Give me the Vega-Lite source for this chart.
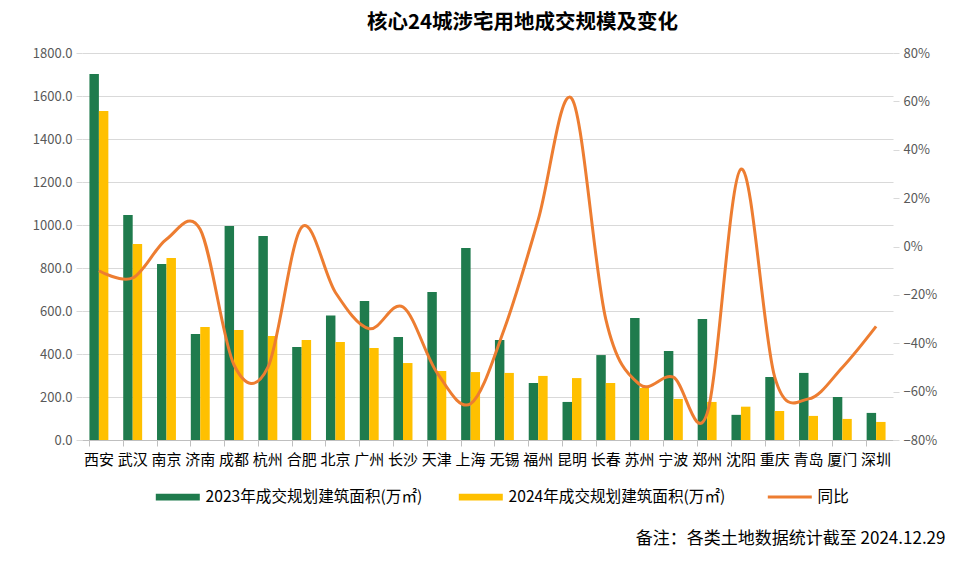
{
  "$schema": "https://vega.github.io/schema/vega-lite/v6.json",
  "width": 811,
  "height": 387,
  "autosize": {"type": "none"},
  "padding": {"left": 82, "top": 53, "right": 67, "bottom": 122},
  "background": "white",
  "config": {
    "font": "Noto Sans CJK SC",
    "view": {"stroke": null}
  },
  "title": {
    "text": "核心24城涉宅用地成交规模及变化",
    "fontSize": 20.5,
    "fontWeight": "bold",
    "color": "#000000",
    "anchor": "middle",
    "dx": 35,
    "offset": 14
  },
  "datasets": {
    "bars": [
      {"city": "西安", "series": "2023年成交规划建筑面积(万㎡)", "value": 1702},
      {"city": "西安", "series": "2024年成交规划建筑面积(万㎡)", "value": 1530},
      {"city": "武汉", "series": "2023年成交规划建筑面积(万㎡)", "value": 1046},
      {"city": "武汉", "series": "2024年成交规划建筑面积(万㎡)", "value": 912},
      {"city": "南京", "series": "2023年成交规划建筑面积(万㎡)", "value": 819},
      {"city": "南京", "series": "2024年成交规划建筑面积(万㎡)", "value": 847},
      {"city": "济南", "series": "2023年成交规划建筑面积(万㎡)", "value": 493},
      {"city": "济南", "series": "2024年成交规划建筑面积(万㎡)", "value": 526},
      {"city": "成都", "series": "2023年成交规划建筑面积(万㎡)", "value": 995},
      {"city": "成都", "series": "2024年成交规划建筑面积(万㎡)", "value": 512},
      {"city": "杭州", "series": "2023年成交规划建筑面积(万㎡)", "value": 949},
      {"city": "杭州", "series": "2024年成交规划建筑面积(万㎡)", "value": 484},
      {"city": "合肥", "series": "2023年成交规划建筑面积(万㎡)", "value": 433},
      {"city": "合肥", "series": "2024年成交规划建筑面积(万㎡)", "value": 465},
      {"city": "北京", "series": "2023年成交规划建筑面积(万㎡)", "value": 579},
      {"city": "北京", "series": "2024年成交规划建筑面积(万㎡)", "value": 456},
      {"city": "广州", "series": "2023年成交规划建筑面积(万㎡)", "value": 647},
      {"city": "广州", "series": "2024年成交规划建筑面积(万㎡)", "value": 428},
      {"city": "长沙", "series": "2023年成交规划建筑面积(万㎡)", "value": 479},
      {"city": "长沙", "series": "2024年成交规划建筑面积(万㎡)", "value": 358},
      {"city": "天津", "series": "2023年成交规划建筑面积(万㎡)", "value": 688},
      {"city": "天津", "series": "2024年成交规划建筑面积(万㎡)", "value": 321},
      {"city": "上海", "series": "2023年成交规划建筑面积(万㎡)", "value": 893},
      {"city": "上海", "series": "2024年成交规划建筑面积(万㎡)", "value": 316},
      {"city": "无锡", "series": "2023年成交规划建筑面积(万㎡)", "value": 465},
      {"city": "无锡", "series": "2024年成交规划建筑面积(万㎡)", "value": 312},
      {"city": "福州", "series": "2023年成交规划建筑面积(万㎡)", "value": 265},
      {"city": "福州", "series": "2024年成交规划建筑面积(万㎡)", "value": 298},
      {"city": "昆明", "series": "2023年成交规划建筑面积(万㎡)", "value": 177},
      {"city": "昆明", "series": "2024年成交规划建筑面积(万㎡)", "value": 288},
      {"city": "长春", "series": "2023年成交规划建筑面积(万㎡)", "value": 395},
      {"city": "长春", "series": "2024年成交规划建筑面积(万㎡)", "value": 265},
      {"city": "苏州", "series": "2023年成交规划建筑面积(万㎡)", "value": 567},
      {"city": "苏州", "series": "2024年成交规划建筑面积(万㎡)", "value": 242},
      {"city": "宁波", "series": "2023年成交规划建筑面积(万㎡)", "value": 414},
      {"city": "宁波", "series": "2024年成交规划建筑面积(万㎡)", "value": 191},
      {"city": "郑州", "series": "2023年成交规划建筑面积(万㎡)", "value": 563},
      {"city": "郑州", "series": "2024年成交规划建筑面积(万㎡)", "value": 177},
      {"city": "沈阳", "series": "2023年成交规划建筑面积(万㎡)", "value": 117},
      {"city": "沈阳", "series": "2024年成交规划建筑面积(万㎡)", "value": 155},
      {"city": "重庆", "series": "2023年成交规划建筑面积(万㎡)", "value": 293},
      {"city": "重庆", "series": "2024年成交规划建筑面积(万㎡)", "value": 135},
      {"city": "青岛", "series": "2023年成交规划建筑面积(万㎡)", "value": 312},
      {"city": "青岛", "series": "2024年成交规划建筑面积(万㎡)", "value": 112},
      {"city": "厦门", "series": "2023年成交规划建筑面积(万㎡)", "value": 200},
      {"city": "厦门", "series": "2024年成交规划建筑面积(万㎡)", "value": 98},
      {"city": "深圳", "series": "2023年成交规划建筑面积(万㎡)", "value": 126},
      {"city": "深圳", "series": "2024年成交规划建筑面积(万㎡)", "value": 84}
    ],
    "yoy": [
      {"city": "西安", "series": "同比", "yoy": -0.10},
      {"city": "武汉", "series": "同比", "yoy": -0.13},
      {"city": "南京", "series": "同比", "yoy": 0.03},
      {"city": "济南", "series": "同比", "yoy": 0.07},
      {"city": "成都", "series": "同比", "yoy": -0.49},
      {"city": "杭州", "series": "同比", "yoy": -0.50},
      {"city": "合肥", "series": "同比", "yoy": 0.08},
      {"city": "北京", "series": "同比", "yoy": -0.19},
      {"city": "广州", "series": "同比", "yoy": -0.34},
      {"city": "长沙", "series": "同比", "yoy": -0.25},
      {"city": "天津", "series": "同比", "yoy": -0.52},
      {"city": "上海", "series": "同比", "yoy": -0.65},
      {"city": "无锡", "series": "同比", "yoy": -0.34},
      {"city": "福州", "series": "同比", "yoy": 0.11},
      {"city": "昆明", "series": "同比", "yoy": 0.61},
      {"city": "长春", "series": "同比", "yoy": -0.30},
      {"city": "苏州", "series": "同比", "yoy": -0.57},
      {"city": "宁波", "series": "同比", "yoy": -0.54},
      {"city": "郑州", "series": "同比", "yoy": -0.69},
      {"city": "沈阳", "series": "同比", "yoy": 0.32},
      {"city": "重庆", "series": "同比", "yoy": -0.54},
      {"city": "青岛", "series": "同比", "yoy": -0.63},
      {"city": "厦门", "series": "同比", "yoy": -0.50},
      {"city": "深圳", "series": "同比", "yoy": -0.33}
    ]
  },
  "encoding": {
    "x": {
      "field": "city",
      "type": "nominal",
      "sort": null,
      "scale": {"paddingInner": 0.44, "paddingOuter": 0.22},
      "axis": {
        "title": "备注：各类土地数据统计截至 2024.12.29",
        "titleFontSize": 17,
        "titleFontWeight": "normal",
        "titleColor": "#000000",
        "titleAlign": "right",
        "titleAnchor": null,
        "titleX": 863,
        "titleY": 98,
        "titleBaseline": "middle",
        "labelAngle": 0,
        "labelFontSize": 15,
        "labelColor": "#000000",
        "labelPadding": 6,
        "bandPosition": 0,
        "domainColor": "#BFBFBF",
        "tickColor": "#BFBFBF",
        "tickSize": 6,
        "grid": false
      }
    }
  },
  "layer": [
    {
      "data": {"name": "bars"},
      "mark": {"type": "bar"},
      "encoding": {
        "xOffset": {"field": "series", "type": "nominal"},
        "y": {
          "field": "value",
          "type": "quantitative",
          "scale": {"domain": [0, 1800], "nice": false},
          "axis": {
            "title": null,
            "values": [0, 200, 400, 600, 800, 1000, 1200, 1400, 1600, 1800],
            "format": ".1f",
            "labelFontSize": 13,
            "labelColor": "#595959",
            "labelPadding": 4,
            "domain": false,
            "ticks": true,
            "tickSize": 6,
            "tickColor": "#D9D9D9",
            "grid": true,
            "gridColor": "#D9D9D9",
            "gridWidth": 1
          }
        },
        "color": {
          "field": "series",
          "type": "nominal",
          "scale": {
            "domain": ["2023年成交规划建筑面积(万㎡)", "2024年成交规划建筑面积(万㎡)", "同比"],
            "range": ["#1F7B4D", "#FFC000", "#ED7D31"]
          },
          "legend": {
            "title": null,
            "orient": "none",
            "direction": "horizontal",
            "columns": 3,
            "legendX": 88,
            "legendY": 436,
            "columnPadding": 35,
            "labelFontSize": 15.6,
            "labelColor": "#000000",
            "labelOffset": 20,
            "symbolSize": 1936,
            "symbolStrokeWidth": 0,
            "labelLimit": 400,
            "encode": {
              "symbols": {
                "update": {
                  "shape": {"signal": "datum.label === '同比' ? 'stroke' : 'M-1,-0.15H1V0.15H-1Z'"},
                  "fill": {"signal": "datum.label === '同比' ? 'transparent' : scale('color', datum.value)"},
                  "stroke": {"signal": "scale('color', datum.value)"},
                  "strokeWidth": {"signal": "datum.label === '同比' ? 3 : 0"},
                  "size": {"value": 1936},
                  "opacity": {"value": 1}
                }
              }
            }
          }
        }
      }
    },
    {
      "data": {"name": "yoy"},
      "mark": {"type": "line", "interpolate": "cardinal", "tension": 0, "strokeWidth": 3},
      "encoding": {
        "y": {
          "field": "yoy",
          "type": "quantitative",
          "scale": {"domain": [-0.8, 0.8], "nice": false},
          "axis": {
            "title": null,
            "orient": "right",
            "values": [-0.8, -0.6, -0.4, -0.2, 0, 0.2, 0.4, 0.6, 0.8],
            "format": ".0%",
            "labelFontSize": 13,
            "labelColor": "#595959",
            "labelPadding": 4,
            "domain": false,
            "ticks": true,
            "tickSize": 6,
            "tickColor": "#D9D9D9",
            "grid": false
          }
        },
        "color": {"field": "series", "type": "nominal"}
      }
    }
  ],
  "resolve": {"scale": {"y": "independent"}, "axis": {"y": "independent"}}
}
